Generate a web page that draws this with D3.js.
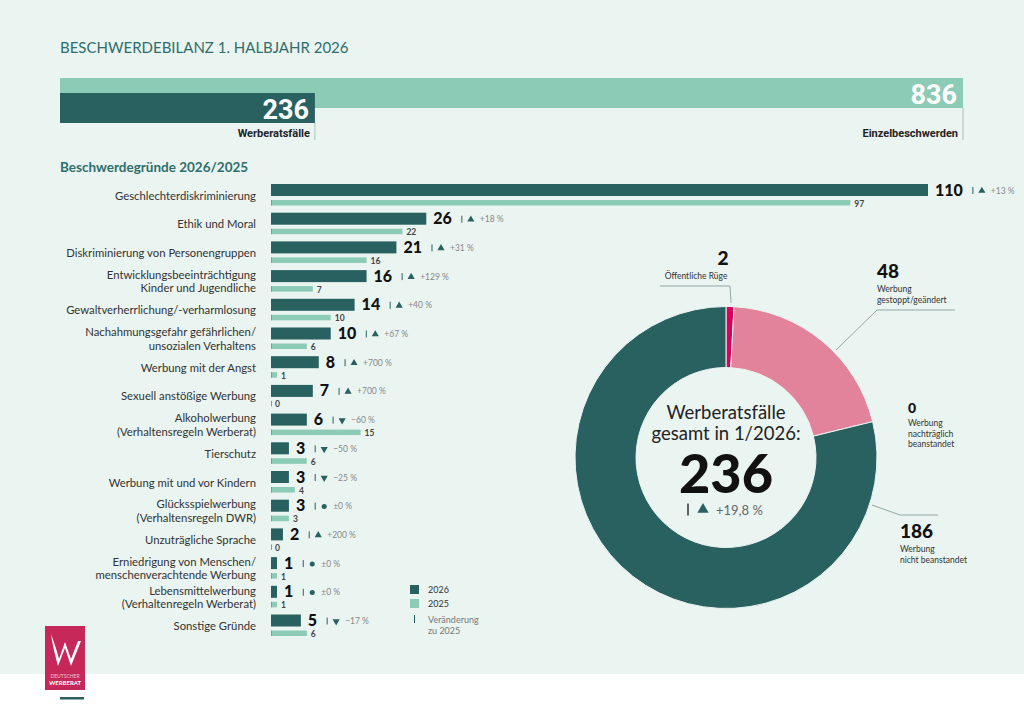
<!DOCTYPE html>
<html>
<head>
<meta charset="utf-8">
<script src="https://cdn.jsdelivr.net/npm/d3@7"></script>
<style>
  body { margin: 0; background: #fff; }
  svg { display: block; font-family: Lato, sans-serif; }
</style>
</head>
<body>
<div id="chart"></div>
<script>
// data
const totals = [236, 836];
const totalLabels = ['Werberatsfälle', 'Einzelbeschwerden'];

const categories = [
  'Geschlechterdiskriminierung',
  'Ethik und Moral',
  'Diskriminierung von Personengruppen',
  'Entwicklungsbeeinträchtigung\nKinder und Jugendliche',
  'Gewaltverherrlichung/-verharmlosung',
  'Nachahmungsgefahr gefährlichen/\nunsozialen Verhaltens',
  'Werbung mit der Angst',
  'Sexuell anstößige Werbung',
  'Alkoholwerbung\n(Verhaltensregeln Werberat)',
  'Tierschutz',
  'Werbung mit und vor Kindern',
  'Glücksspielwerbung\n(Verhaltensregeln DWR)',
  'Unzuträgliche Sprache',
  'Erniedrigung von Menschen/\nmenschenverachtende Werbung',
  'Lebensmittelwerbung\n(Verhaltenregeln Werberat)',
  'Sonstige Gründe'
];
const values2026 = [110, 26, 21, 16, 14, 10, 8, 7, 6, 3, 3, 3, 2, 1, 1, 5];
const values2025 = [97, 22, 16, 7, 10, 6, 1, 0, 15, 6, 4, 3, 0, 1, 1, 6];
const changes = ['+13 %', '+18 %', '+31 %', '+129 %', '+40 %', '+67 %', '+700 %', '+700 %',
  '\u221260 %', '\u221250 %', '\u221225 %', '\u00b10 %', '+200 %', '\u00b10 %', '\u00b10 %', '\u221217 %'];

const outcomeValues = [2, 48, 0, 186];
const outcomeLabels = ['Öffentliche Rüge', 'Werbung\ngestoppt/geändert', 'Werbung\nnachträglich\nbeanstandet', 'Werbung\nnicht beanstandet'];
const outcomeColors = ['#d6005e', '#e3839b', '#8ccbb6', '#28615f'];

const dark = '#28615f';
const light = '#8ccbb6';
const bg = '#eaf4f1';

const svg = d3.select('#chart').append('svg')
  .attr('width', 1024)
  .attr('height', 723);

svg.append('rect').attr('width', 1024).attr('height', 674).attr('fill', bg);

// title
svg.append('text')
  .text('BESCHWERDEBILANZ 1. HALBJAHR 2026')
  .attr('x', 60).attr('y', 53)
  .style('font-size', '15px')
  .style('fill', '#2f6e6c');

// top totals bar
const xTop = d3.scaleLinear().domain([0, 836]).range([60, 963]);
const topBars = [
  { v: totals[1], label: totalLabels[1], y: 78, fill: light },
  { v: totals[0], label: totalLabels[0], y: 93, fill: dark }
];
topBars.forEach(d => {
  svg.append('rect')
    .attr('x', xTop(0)).attr('y', d.y)
    .attr('width', xTop(d.v) - xTop(0)).attr('height', 30)
    .attr('fill', d.fill);
  svg.append('text')
    .text(d.v)
    .attr('x', xTop(d.v) - 6).attr('y', d.y + 26)
    .attr('text-anchor', 'end')
    .style('font-family', 'Roboto, sans-serif')
    .style('font-weight', 700)
    .style('font-size', '27px')
    .style('fill', '#fff');
  svg.append('line')
    .attr('x1', xTop(d.v)).attr('x2', xTop(d.v))
    .attr('y1', d.y + 30).attr('y2', 140)
    .attr('stroke', '#9fb5b1').attr('stroke-width', 0.8);
  svg.append('text')
    .text(d.label)
    .attr('x', xTop(d.v) - 5).attr('y', 137)
    .attr('text-anchor', 'end')
    .style('font-family', 'Roboto, sans-serif')
    .style('font-weight', 700)
    .style('font-size', '11px')
    .style('fill', '#222');
});

svg.append('text')
  .text('Beschwerdegründe 2026/2025')
  .attr('x', 60).attr('y', 172)
  .style('font-weight', 700)
  .style('font-size', '13.5px')
  .style('fill', '#2f6e6c');

// reasons bar chart
const x = d3.scaleLinear().domain([0, 110]).range([271, 928]);
const y = d3.scaleBand().domain(d3.range(categories.length)).range([184, 184 + 16 * 28.7]);

const rows = svg.append('g').selectAll('g')
  .data(categories)
  .join('g')
  .attr('transform', (d, i) => 'translate(0,' + y(i) + ')');

rows.each(function (cat, i) {
  const g = d3.select(this);
  const lines = cat.split('\n');
  const t = g.append('text')
    .attr('text-anchor', 'end')
    .style('font-size', '11.3px')
    .style('fill', '#333');
  lines.forEach((l, k) => {
    t.append('tspan')
      .text(l)
      .attr('x', 256)
      .attr('y', 15.5 + (k - (lines.length - 1) / 2) * 13.5);
  });

  // 2026 bar
  const w26 = x(values2026[i]) - x(0);
  g.append('rect')
    .attr('x', x(0)).attr('y', 0)
    .attr('width', Math.max(w26, 1)).attr('height', 12)
    .attr('fill', dark);
  // 2025 bar
  const w25 = x(values2025[i]) - x(0);
  g.append('rect')
    .attr('x', x(0)).attr('y', 16)
    .attr('width', w25).attr('height', 5.5)
    .attr('fill', light);
  g.append('line')
    .attr('x1', x(0) + 0.5).attr('x2', x(0) + 0.5)
    .attr('y1', 16).attr('y2', 21.5)
    .attr('stroke', '#6aa796').attr('stroke-width', 1);

  const valText = g.append('text')
    .text(values2026[i])
    .attr('x', x(values2026[i]) + 7).attr('y', 11.5)
    .style('font-weight', 900)
    .style('font-size', '16px')
    .style('fill', '#111');
  const vw = valText.node().getComputedTextLength();
  const sx = x(values2026[i]) + 7 + vw + 10;
  g.append('line')
    .attr('x1', sx).attr('x2', sx)
    .attr('y1', 3).attr('y2', 10)
    .attr('stroke', dark).attr('stroke-width', 1);
  const ch = changes[i];
  const sym = ch.startsWith('\u00b1') ? d3.symbolCircle : d3.symbolTriangle;
  g.append('path')
    .attr('d', d3.symbol().type(sym).size(ch.startsWith('\u00b1') ? 20 : 22)())
    .attr('transform', 'translate(' + (sx + 9) + ',6.8)' + (ch.startsWith('\u2212') ? ' rotate(180)' : ''))
    .attr('fill', dark);
  g.append('text')
    .text(ch)
    .attr('x', sx + 18).attr('y', 9.5)
    .style('font-size', '8.5px')
    .style('fill', '#888');

  g.append('text')
    .text(values2025[i])
    .attr('x', x(values2025[i]) + 4).attr('y', 22.5)
    .style('font-weight', 700)
    .style('font-size', '8.5px')
    .style('fill', '#444');
});

// legend
const legend = svg.append('g').attr('transform', 'translate(410,585)');
[['2026', dark], ['2025', light]].forEach((d, i) => {
  legend.append('rect')
    .attr('x', 0).attr('y', i * 14)
    .attr('width', 9).attr('height', 9)
    .attr('fill', d[1]);
  legend.append('text')
    .text(d[0])
    .attr('x', 18).attr('y', i * 14 + 8)
    .style('font-size', '9px')
    .style('fill', '#333');
});
legend.append('line')
  .attr('x1', 4.5).attr('x2', 4.5)
  .attr('y1', 30).attr('y2', 38)
  .attr('stroke', dark).attr('stroke-width', 1);
legend.append('text')
  .attr('x', 18).attr('y', 38)
  .style('font-size', '9px')
  .style('fill', '#777')
  .selectAll('tspan')
  .data(['Veränderung', 'zu 2025'])
  .join('tspan')
  .attr('x', 18)
  .attr('dy', (d, i) => i ? 11 : 0)
  .text(d => d);

// donut
const cx = 726, cy = 457.5;
const pie = d3.pie().sort(null).value(d => d);
const arc = d3.arc().innerRadius(90).outerRadius(151);
const donut = svg.append('g').attr('transform', 'translate(' + cx + ',' + cy + ')');
donut.selectAll('path')
  .data(pie(outcomeValues))
  .join('path')
  .attr('d', arc)
  .attr('fill', (d, i) => outcomeColors[i])
  .attr('stroke', bg)
  .attr('stroke-width', d => d.value ? 1 : 0);

donut.append('text')
  .attr('text-anchor', 'middle')
  .style('font-size', '18.5px')
  .style('fill', '#222')
  .selectAll('tspan')
  .data(['Werberatsfälle', 'gesamt in 1/2026:'])
  .join('tspan')
  .attr('x', 0)
  .attr('y', (d, i) => -39 + i * 21)
  .text(d => d);
donut.append('text')
  .text(d3.sum(outcomeValues))
  .attr('x', 0).attr('y', 35)
  .attr('text-anchor', 'middle')
  .style('font-weight', 900)
  .style('font-size', '54px')
  .style('fill', '#111');
donut.append('line')
  .attr('x1', -38).attr('x2', -38)
  .attr('y1', 46).attr('y2', 58)
  .attr('stroke', '#333').attr('stroke-width', 1.5);
donut.append('path')
  .attr('d', d3.symbol().type(d3.symbolTriangle).size(55)())
  .attr('transform', 'translate(-23,52)')
  .attr('fill', dark);
donut.append('text')
  .text('+19,8 %')
  .attr('x', -10).attr('y', 57)
  .style('font-size', '13px')
  .style('fill', '#666');

// donut annotations
const notes = [
  { x: 723, y: 265, anchor: 'middle', lx: 696, line: [[660, 286], [730, 286], [731, 303]] },
  { x: 877, y: 278, anchor: 'start', lx: 877, line: [[955, 310], [877, 310], [836, 350]] },
  { x: 908, y: 413, anchor: 'start', lx: 908, line: null },
  { x: 900, y: 538, anchor: 'start', lx: 900, line: [[872, 505], [900, 515], [938, 515]] }
];
notes.forEach((n, i) => {
  svg.append('text')
    .text(outcomeValues[i])
    .attr('x', n.x).attr('y', n.y)
    .attr('text-anchor', n.anchor)
    .style('font-weight', 900)
    .style('font-size', i === 2 ? '14px' : '19px')
    .style('fill', '#111');
  const lines = outcomeLabels[i].split('\n');
  svg.append('text')
    .attr('text-anchor', n.anchor)
    .style('font-size', '8.5px')
    .style('fill', '#333')
    .selectAll('tspan')
    .data(lines)
    .join('tspan')
    .attr('x', n.lx)
    .attr('y', (d, k) => n.y + (i === 2 ? 13 : 14) + k * 10.5)
    .text(d => d);
  if (n.line) {
    svg.append('path')
      .attr('d', d3.line()(n.line))
      .attr('fill', 'none')
      .attr('stroke', '#8fa8a6')
      .attr('stroke-width', 1);
  }
});

// logo
const logo = svg.append('g').attr('transform', 'translate(45,626)');
logo.append('rect').attr('width', 40).attr('height', 64).attr('fill', '#c6285a');
logo.append('path')
  .attr('d', 'M6,8 C8,22 11,32 13,40 L20,22 L26,40 L36,15 L33,15 L26,33 L20,16 L14,33 C12,25 9,16 6,8 Z')
  .attr('fill', '#fff');
logo.append('text')
  .text('DEUTSCHER')
  .attr('x', 20).attr('y', 52)
  .attr('text-anchor', 'middle')
  .style('font-size', '5px')
  .style('fill', '#f3c6d2');
logo.append('text')
  .text('WERBERAT')
  .attr('x', 20).attr('y', 59)
  .attr('text-anchor', 'middle')
  .style('font-size', '6px')
  .style('font-weight', 700)
  .style('font-size', '6px')
  .style('fill', '#fff');
svg.append('rect').attr('x', 60).attr('y', 697).attr('width', 24).attr('height', 2.5).attr('fill', dark);
</script>
</body>
</html>
